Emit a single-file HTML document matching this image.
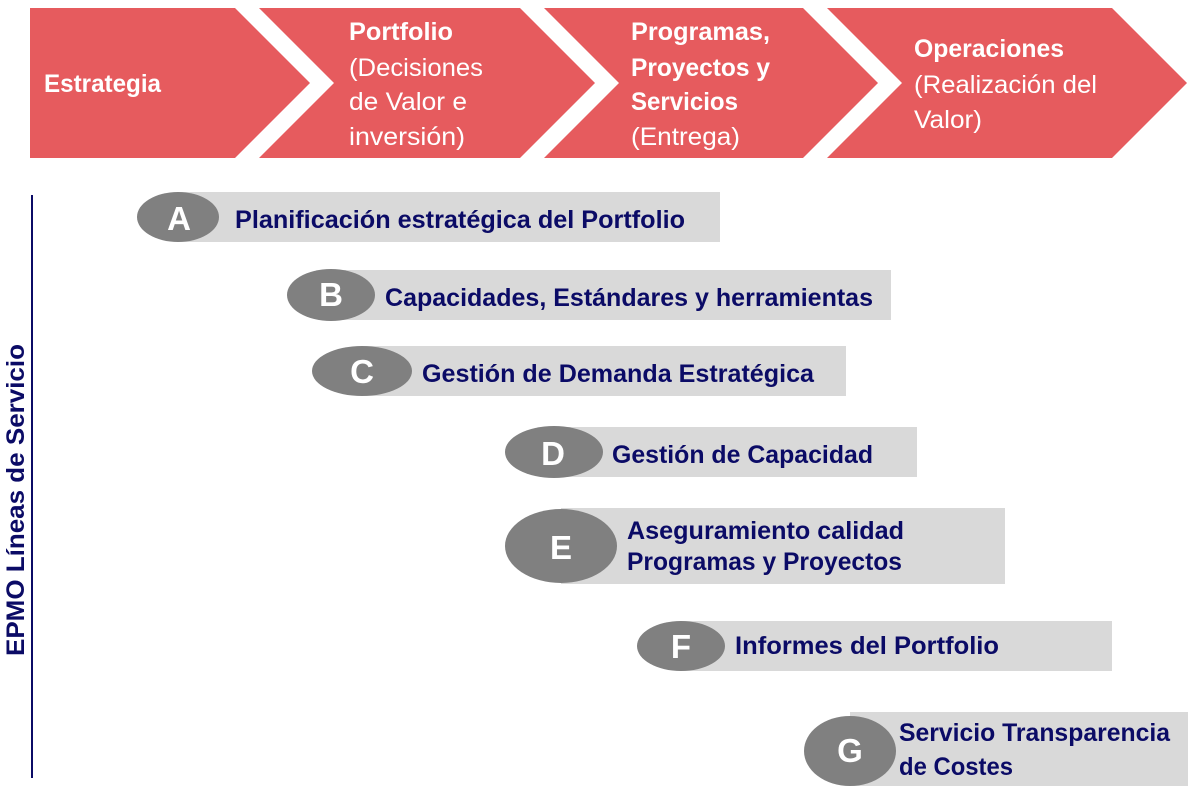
<!DOCTYPE html>
<html>
<head>
<meta charset="utf-8">
<style>
  html,body{margin:0;padding:0;background:#ffffff;}
  svg{display:block;}
  .ch{font-family:"Liberation Sans",sans-serif;fill:#ffffff;font-size:25px;}
  .chb{font-weight:bold;}
  .bt{font-family:"Liberation Sans",sans-serif;fill:#0b0b66;font-size:25px;font-weight:bold;}
  .lt{font-family:"Liberation Sans",sans-serif;fill:#ffffff;font-size:33px;font-weight:bold;}
</style>
</head>
<body>
<svg width="1199" height="795" viewBox="0 0 1199 795" xmlns="http://www.w3.org/2000/svg">
  <!-- Chevrons -->
  <g fill="#e65b5e">
    <polygon points="30,8 235,8 310,83 235,158 30,158"/>
    <polygon points="259,8 520,8 595,83 520,158 259,158 334,83"/>
    <polygon points="544,8 803,8 878,83 803,158 544,158 619,83"/>
    <polygon points="827,8 1112,8 1187,83 1112,158 827,158 902,83"/>
  </g>

  <!-- Chevron text -->
  <text class="ch chb" x="44" y="92" textLength="117" lengthAdjust="spacingAndGlyphs">Estrategia</text>

  <text class="ch chb" x="349" y="40" textLength="104" lengthAdjust="spacingAndGlyphs">Portfolio</text>
  <text class="ch" x="349" y="76" textLength="134" lengthAdjust="spacingAndGlyphs">(Decisiones</text>
  <text class="ch" x="349" y="110" textLength="118" lengthAdjust="spacingAndGlyphs">de Valor e</text>
  <text class="ch" x="349" y="145" textLength="116" lengthAdjust="spacingAndGlyphs">inversión)</text>

  <text class="ch chb" x="631" y="40" textLength="139" lengthAdjust="spacingAndGlyphs">Programas,</text>
  <text class="ch chb" x="631" y="76" textLength="139" lengthAdjust="spacingAndGlyphs">Proyectos y</text>
  <text class="ch chb" x="631" y="110" textLength="107" lengthAdjust="spacingAndGlyphs">Servicios</text>
  <text class="ch" x="631" y="145" textLength="109" lengthAdjust="spacingAndGlyphs">(Entrega)</text>

  <text class="ch chb" x="914" y="57" textLength="150" lengthAdjust="spacingAndGlyphs">Operaciones</text>
  <text class="ch" x="914" y="93" textLength="183" lengthAdjust="spacingAndGlyphs">(Realización del</text>
  <text class="ch" x="914" y="128" textLength="68" lengthAdjust="spacingAndGlyphs">Valor)</text>

  <!-- Vertical line and label -->
  <line x1="32" y1="195" x2="32" y2="778" stroke="#0b0b66" stroke-width="2"/>
  <text class="bt" x="0" y="0" text-anchor="middle" transform="translate(24,500) rotate(-90)" textLength="312" lengthAdjust="spacingAndGlyphs">EPMO Líneas de Servicio</text>

  <!-- Bars -->
  <g fill="#d9d9d9">
    <rect x="178" y="192" width="542" height="50"/>
    <rect x="331" y="270" width="560" height="50"/>
    <rect x="362" y="346" width="484" height="50"/>
    <rect x="554" y="427" width="363" height="50"/>
    <rect x="561" y="508" width="444" height="76"/>
    <rect x="681" y="621" width="431" height="50"/>
    <rect x="850" y="712" width="338" height="74"/>
  </g>

  <!-- Ellipses -->
  <g fill="#808080">
    <ellipse cx="178" cy="217" rx="41" ry="25"/>
    <ellipse cx="331" cy="295" rx="44" ry="26"/>
    <ellipse cx="362" cy="371" rx="50" ry="25"/>
    <ellipse cx="554" cy="452" rx="49" ry="26"/>
    <ellipse cx="561" cy="546" rx="56" ry="37"/>
    <ellipse cx="681" cy="646" rx="44" ry="25"/>
    <ellipse cx="850" cy="751" rx="46" ry="35"/>
  </g>

  <!-- Letters -->
  <g text-anchor="middle">
    <text class="lt" x="179" y="230">A</text>
    <text class="lt" x="331" y="306">B</text>
    <text class="lt" x="362" y="383">C</text>
    <text class="lt" x="553" y="465">D</text>
    <text class="lt" x="561" y="559">E</text>
    <text class="lt" x="681" y="658">F</text>
    <text class="lt" x="850" y="762">G</text>
  </g>

  <!-- Bar labels -->
  <text class="bt" x="235" y="228" textLength="450" lengthAdjust="spacingAndGlyphs">Planificación estratégica del Portfolio</text>
  <text class="bt" x="385" y="306" textLength="488" lengthAdjust="spacingAndGlyphs">Capacidades, Estándares y herramientas</text>
  <text class="bt" x="422" y="382" textLength="392" lengthAdjust="spacingAndGlyphs">Gestión de Demanda Estratégica</text>
  <text class="bt" x="612" y="463" textLength="261" lengthAdjust="spacingAndGlyphs">Gestión de Capacidad</text>
  <text class="bt" x="627" y="539" textLength="277" lengthAdjust="spacingAndGlyphs">Aseguramiento calidad</text>
  <text class="bt" x="627" y="570" textLength="275" lengthAdjust="spacingAndGlyphs">Programas y Proyectos</text>
  <text class="bt" x="735" y="654" textLength="264" lengthAdjust="spacingAndGlyphs">Informes del Portfolio</text>
  <text class="bt" x="899" y="741" textLength="271" lengthAdjust="spacingAndGlyphs">Servicio Transparencia</text>
  <text class="bt" x="899" y="775" textLength="114" lengthAdjust="spacingAndGlyphs">de Costes</text>
</svg>
</body>
</html>
